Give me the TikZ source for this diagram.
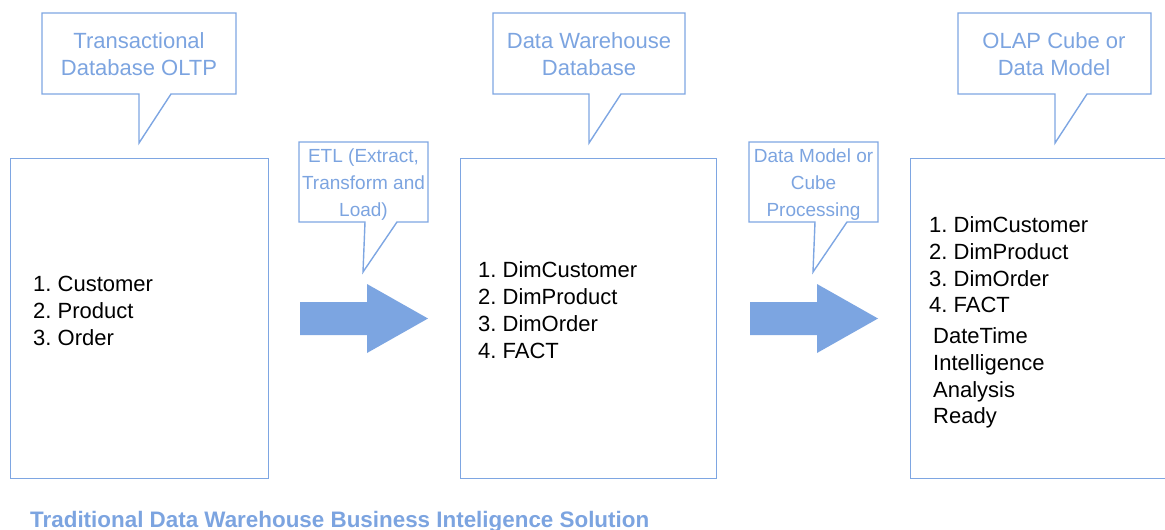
\documentclass[tikz,border=0pt]{standalone}
\usepackage{fontspec}
\setmainfont{Liberation Sans}
\frenchspacing
\definecolor{edgeblue}{RGB}{126,166,226}
\definecolor{textblue}{RGB}{124,164,224}
\definecolor{fillblue}{RGB}{124,165,225}
\begin{document}
\begin{tikzpicture}[x=1pt,y=-1pt,
  stage/.style={draw=edgeblue,line width=1.4pt},
  bubble/.style={draw=edgeblue,line width=1.4pt,line join=miter},
  calltext/.style={text=textblue,font=\fontsize{22}{27}\selectfont,anchor=base,inner sep=0pt},
  smalltext/.style={text=textblue,font=\fontsize{19}{26}\selectfont,anchor=base,inner sep=0pt},
  item/.style={text=black,font=\fontsize{22}{27}\selectfont,anchor=base west,inner sep=0pt},
  flow/.style={fill=fillblue,draw=none}]
\useasboundingbox (0,0) rectangle (1165,530);
\clip (0,0) rectangle (1165,530);

% three stage boxes
\node[stage,inner sep=0pt,minimum width=258pt,minimum height=320pt,anchor=north west] (oltp) at (10,158) {};
\node[stage,inner sep=0pt,minimum width=256pt,minimum height=320pt,anchor=north west] (dw) at (460,158) {};
\node[stage,inner sep=0pt,minimum width=270pt,minimum height=320pt,anchor=north west] (olap) at (910,158) {};

% callout bubbles above the boxes
\draw[bubble] (42,13) -- (236,13) -- (236,94) -- (171,94) -- (139,143) -- (139,94) -- (42,94) -- cycle;
\draw[bubble] (493,13) -- (685,13) -- (685,94) -- (621,94) -- (589,143) -- (589,94) -- (493,94) -- cycle;
\draw[bubble] (958,13) -- (1151,13) -- (1151,94) -- (1087,94) -- (1055,143) -- (1055,94) -- (958,94) -- cycle;

\node[calltext] (c1a) at (139,48) {Transactional};
\node[calltext] (c1b) at (139,75) {Database OLTP};
\node[calltext] (c2a) at (589,48) {Data Warehouse};
\node[calltext] (c2b) at (589,75) {Database};
\node[calltext] (c3a) at (1054,48) {OLAP Cube or};
\node[calltext] (c3b) at (1054,75) {Data Model};

% callouts above the flow arrows
\draw[bubble] (299,142) -- (428,142) -- (428,222) -- (397,222) -- (363,272) -- (365,222) -- (299,222) -- cycle;
\draw[bubble] (749,142) -- (878,142) -- (878,222) -- (847,222) -- (813,272) -- (815,222) -- (749,222) -- cycle;

\node[smalltext] (e1) at (363.5,162) {ETL (Extract,};
\node[smalltext] (e2) at (363.5,189) {Transform and};
\node[smalltext] (e3) at (363.5,216) {Load)};
\node[smalltext] (p1) at (813.5,162) {Data Model or};
\node[smalltext] (p2) at (813.5,189) {Cube};
\node[smalltext] (p3) at (813.5,216) {Processing};

% block arrows between the stages
\fill[flow] (300,302) -- (367,302) -- (367,284) -- (428,318.5) -- (367,353) -- (367,335) -- (300,335) -- cycle;
\fill[flow] (750,302) -- (817,302) -- (817,284) -- (878,318.5) -- (817,353) -- (817,335) -- (750,335) -- cycle;

% box contents
\node[item] (a1) at (33,291) {1. Customer};
\node[item] (a2) at (33,318) {2. Product};
\node[item] (a3) at (33,345) {3. Order};

\node[item] (b1) at (478,277) {1. DimCustomer};
\node[item] (b2) at (478,304) {2. DimProduct};
\node[item] (b3) at (478,331) {3. DimOrder};
\node[item] (b4) at (478,358) {4. FACT};

\node[item] (d1) at (929,232) {1. DimCustomer};
\node[item] (d2) at (929,259) {2. DimProduct};
\node[item] (d3) at (929,286) {3. DimOrder};
\node[item] (d4) at (929,312) {4. FACT};
\node[item] (d5) at (933,343) {DateTime};
\node[item] (d6) at (933,370) {Intelligence};
\node[item] (d7) at (933,397) {Analysis};
\node[item] (d8) at (933,423) {Ready};

% caption
\node[anchor=base west,inner sep=0pt,text=textblue,font=\fontsize{22.4}{26}\selectfont\bfseries] (title) at (30,527) {Traditional Data Warehouse Business Inteligence Solution};
\end{tikzpicture}
\end{document}
